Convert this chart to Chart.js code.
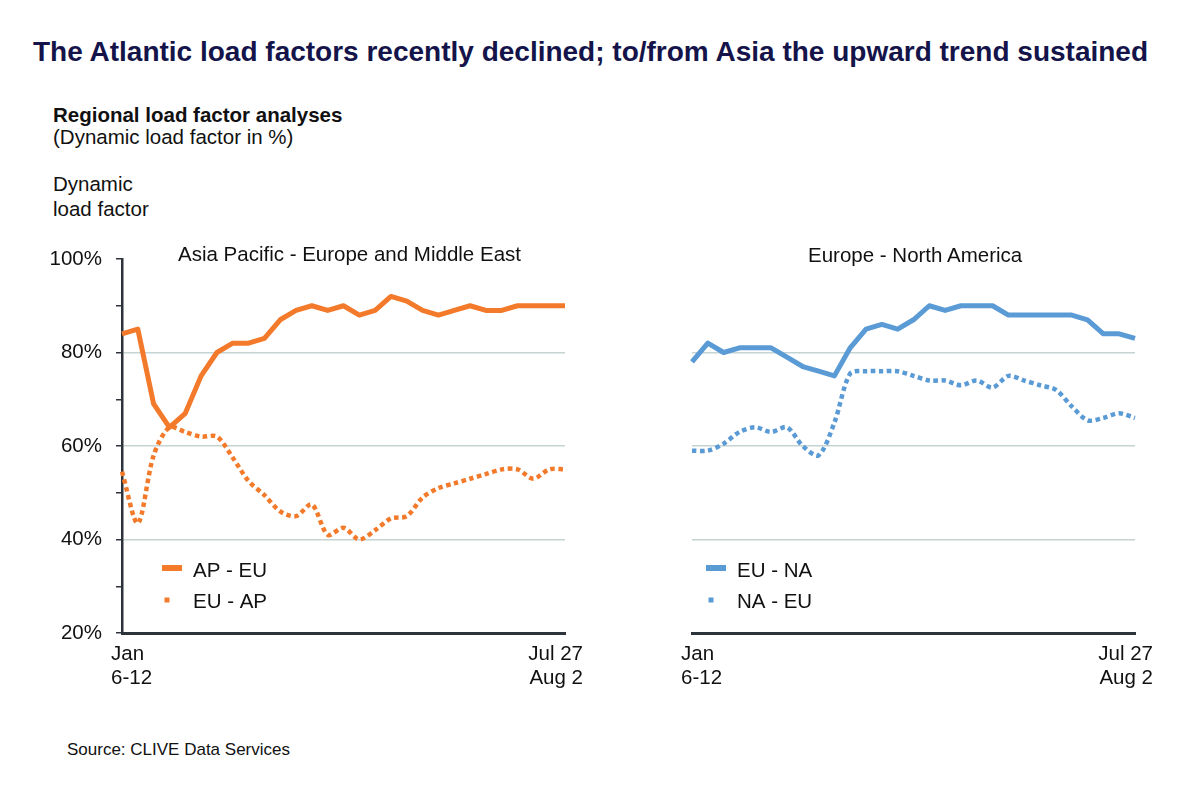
<!DOCTYPE html>
<html>
<head>
<meta charset="utf-8">
<title>Regional load factor analyses</title>
<script src="https://cdn.jsdelivr.net/npm/chart.js@4.4.1/dist/chart.umd.min.js"></script>
<style>
    body { margin: 0; background: #fff; }
    #page {
        position: relative;
        width: 1200px;
        height: 785px;
        overflow: hidden;
        font-family: "Liberation Sans", Arial, sans-serif;
        color: #111;
    }
    .txt { position: absolute; white-space: nowrap; line-height: 1; font-size: 20.5px; }
    canvas { position: absolute; }
</style>
</head>
<body>
<div id="page">
    <canvas id="apChart" width="600" height="470" style="left:0;top:240px"></canvas>
    <canvas id="naChart" width="600" height="470" style="left:600px;top:240px"></canvas>

    <div class="txt" style="left:33px;top:38.3px;font-size:28px;font-weight:bold;color:#14144a;">The Atlantic load factors recently declined; to/from Asia the upward trend sustained</div>
    <div class="txt" style="left:53px;top:104.6px;font-weight:bold;">Regional load factor analyses</div>
    <div class="txt" style="left:53px;top:126.6px;">(Dynamic load factor in %)</div>
    <div class="txt" style="left:53px;top:173.6px;">Dynamic</div>
    <div class="txt" style="left:53px;top:198.6px;">load factor</div>
    <div class="txt" style="left:178px;top:243.6px;">Asia Pacific - Europe and Middle East</div>
    <div class="txt" style="left:808px;top:244.6px;">Europe - North America</div>
    <div class="txt" style="left:67px;top:740.6px;font-size:17px;">Source: CLIVE Data Services</div>
</div>

<script>
// weekly periods, only first and last are labelled on the chart
const weekLabels = [
    ['Jan', '6-12'], '', '', '', '', '', '', '', '', '', '', '', '', '', '',
    '', '', '', '', '', '', '', '', '', '', '', '', '', ['Jul 27', 'Aug 2']
];

// Asia Pacific - Europe and Middle East
const apEu = [84, 85, 69, 64, 67, 75, 80, 82, 82, 83, 87, 89, 90, 89, 90,
              88, 89, 92, 91, 89, 88, 89, 90, 89, 89, 90, 90, 90, 90];
const euAp = [54.5, 43.5, 58, 64, 63, 62, 62, 57.5, 52.5, 49.5, 46, 45, 47.5, 41, 42.5,
              40, 42, 44.5, 45, 49, 51, 52, 53, 54, 55, 55, 53, 55, 55];

// Europe - North America
const euNa = [78, 82, 80, 81, 81, 81, 79, 77, 76, 75, 81, 85, 86, 85, 87,
              90, 89, 90, 90, 90, 88, 88, 88, 88, 88, 87, 84, 84, 83];
const naEu = [59, 59, 60.5, 63, 64, 63, 64, 60, 58, 65, 75.5, 76, 76, 76, 75,
              74, 74, 73, 74, 72.5, 75, 74, 73, 72, 68.5, 65.5, 66, 67, 66];

const yTickLabels = [20, 40, 60, 80, 100];
const gridValues = [40, 60, 80];

const ORANGE = '#f37a2a';
const BLUE = '#5b9bd5';
const AXIS = '#2d333b';
const GRID = '#c6d3d3';
const FONT = '"Liberation Sans", Arial, sans-serif';

Chart.defaults.font.family = FONT;
Chart.defaults.font.size = 20.5;
Chart.defaults.color = '#111';

// first/last week labels under the axis + legend inside the plot
const panelText = {
    id: 'panelText',
    afterDraw(chart, args, opts) {
        const { ctx, chartArea } = chart;
        const xs = chart.scales.x;
        const labels = chart.data.labels;
        const first = labels[0];
        const last = labels[labels.length - 1];

        ctx.save();
        ctx.font = '20.5px ' + FONT;
        ctx.fillStyle = '#111';
        ctx.textBaseline = 'alphabetic';

        const y0 = chartArea.bottom + 27;
        ctx.textAlign = 'left';
        first.forEach((t, i) => ctx.fillText(t, xs.getPixelForValue(0) - 11, y0 + i * 24));
        ctx.textAlign = 'right';
        last.forEach((t, i) => ctx.fillText(t, xs.getPixelForValue(labels.length - 1) + 18, y0 + i * 24));

        // legend
        const lx = chartArea.left + opts.legendX;
        const ly = chartArea.top + 309;
        const [solid, dotted] = chart.data.datasets;

        ctx.strokeStyle = solid.borderColor;
        ctx.lineWidth = 6;
        ctx.beginPath();
        ctx.moveTo(lx, ly);
        ctx.lineTo(lx + 20, ly);
        ctx.stroke();

        ctx.fillStyle = dotted.borderColor;
        ctx.fillRect(lx + 2.5, ly + 29.5, 5, 5);

        ctx.fillStyle = '#111';
        ctx.textAlign = 'left';
        ctx.fillText(solid.label, lx + 31, ly + 8.5);
        ctx.fillText(dotted.label, lx + 31, ly + 40);
        ctx.restore();
    }
};

function lineSet(label, data, color, dotted) {
    return {
        label: label,
        data: data,
        borderColor: color,
        backgroundColor: color,
        borderWidth: dotted ? 4.5 : 5,
        borderDash: dotted ? [4.5, 3.5] : [],
        borderJoinStyle: 'round',
        tension: dotted ? 0.3 : 0,
        pointRadius: 0,
        fill: false
    };
}

function makePanel(canvasId, datasets, withAxis, legendX, padRight, yWidth) {
    const yScale = {
        min: 20,
        max: 100,
        afterFit: s => {
            s.width = yWidth;
            // keep the plot area where the layout padding puts it
            s.paddingTop = 0;
            s.paddingBottom = 0;
        },
        ticks: {
            stepSize: 10,
            autoSkip: false,
            display: withAxis,
            padding: 14,
            color: '#111',
            callback: v => yTickLabels.includes(v) ? v + '%' : ''
        },
        grid: {
            color: c => (c.tick && gridValues.includes(c.tick.value)) ? GRID : 'rgba(0,0,0,0)',
            lineWidth: 1.5,
            drawTicks: withAxis,
            tickLength: 6,
            tickColor: AXIS,
            tickWidth: 1.5
        },
        border: { display: withAxis, color: AXIS, width: 2.5 }
    };

    return new Chart(document.getElementById(canvasId), {
        type: 'line',
        data: { labels: weekLabels, datasets: datasets },
        options: {
            responsive: false,
            animation: false,
            layout: { padding: { top: 19, right: padRight, left: 0, bottom: 0 } },
            plugins: {
                legend: { display: false },
                tooltip: { enabled: false },
                panelText: { legendX: legendX }
            },
            scales: {
                x: {
                    afterFit: s => { s.height = 77; },
                    ticks: { display: false },
                    grid: { display: false },
                    border: { display: true, color: AXIS, width: 3 }
                },
                y: yScale
            }
        },
        plugins: [panelText]
    });
}

makePanel('apChart', [
    lineSet('AP - EU', apEu, ORANGE, false),
    lineSet('EU - AP', euAp, ORANGE, true)
], true, 40, 35, 122);

makePanel('naChart', [
    lineSet('EU - NA', euNa, BLUE, false),
    lineSet('NA - EU', naEu, BLUE, true)
], false, 14, 65, 92);
</script>
</body>
</html>
